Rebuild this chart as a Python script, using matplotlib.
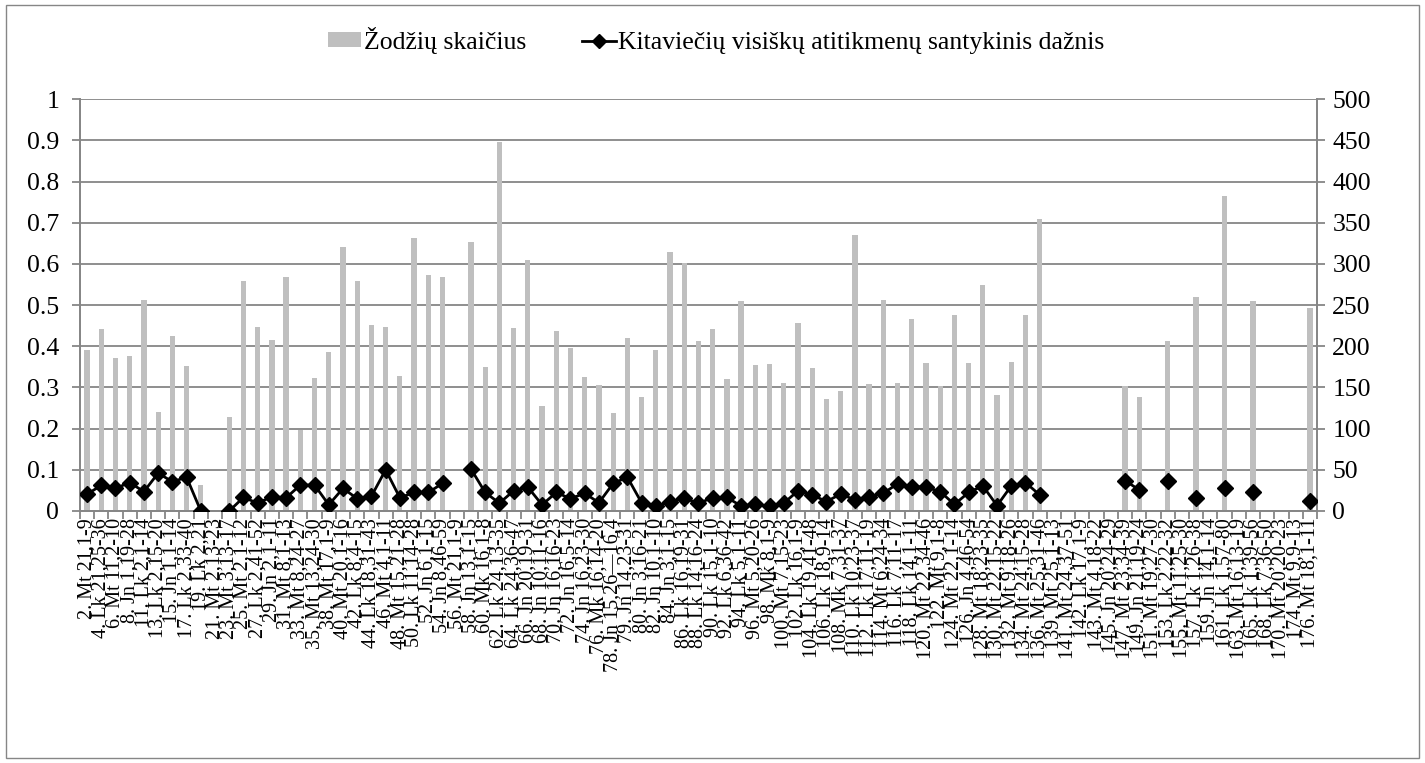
import numpy as np
import matplotlib
matplotlib.use("Agg")
import matplotlib.pyplot as plt
from matplotlib.patches import Patch, Rectangle
from matplotlib.lines import Line2D

plt.rcParams["font.family"] = ["Liberation Serif", "DejaVu Serif"]

# ───────────────────────────────
# Data
# ───────────────────────────────
labels = [
    "2. Mt 21,1-9", "4. Lk 21,25-36", "6. Mt 11,2-10", "8. Jn 1,19-28", "11. Lk 2,1-14",
    "13. Lk 2,15-20", "15. Jn 1,1-14", "17. Lk 2,33-40", "19. Lk 2,21", "21. Mt 2,13-23",
    "23. Mt 3,13-17", "25. Mt 2,1-12", "27. Lk 2,41-52", "29. Jn 2,1-11", "31. Mt 8,1-13",
    "33. Mt 8,24-27", "35. Mt 13,24-30", "38. Mt 17,1-9", "40. Mt 20,1-16", "42. Lk 8,4-15",
    "44. Lk 18,31-43", "46. Mt 4,1-11", "48. Mt 15,21-28", "50. Lk 11,14-28", "52. Jn 6,1-15",
    "54. Jn 8,46-59", "56. Mt 21,1-9", "58. Jn 13,1-15", "60. Mk 16,1-8", "62. Lk 24,13-35",
    "64. Lk 24,36-47", "66. Jn 20,19-31", "68. Jn 10,11-16", "70. Jn 16,16-23", "72. Jn 16,5-14",
    "74. Jn 16,23-30", "76. Mk 16,14-20", "78. Jn 15,26—16,4", "79. Jn 14,23-31", "80. Jn 3,16-21",
    "82. Jn 10,1-10", "84. Jn 3,1-15", "86. Lk 16,19-31", "88. Lk 14,16-24", "90. Lk 15,1-10",
    "92. Lk 6,36-42", "94. Lk 5,1-11", "96. Mt 5,20-26", "98. Mk 8,1-9", "100. Mt 7,15-23",
    "102. Lk 16,1-9", "104. Lk 19,41-48", "106. Lk 18,9-14", "108. Mk 7,31-37", "110. Lk 10,23-37",
    "112. Lk 17,11-19", "114. Mt 6,24-34", "116. Lk 7,11-17", "118. Lk 14,1-11", "120. Mt 22,34-46",
    "122. Mt 9,1-8", "124. Mt 22,1-14", "126. Jn 4,46-54", "128. Mt 18,23-35", "130. Mt 22,15-22",
    "132. Mt 9,18-26", "134. Mt 24,15-28", "136. Mt 25,31-46", "139. Mt 25,1-13", "141. Mt 24,37-51",
    "142. Lk 17,1-9", "143. Mt 4,18-22", "145. Jn 20,24-29", "147. Mt 23,34-39", "149. Jn 21,19-24",
    "151. Mt 19,27-30", "153. Lk 2,22-32", "155. Mt 11,25-30", "157. Lk 1,26-38", "159. Jn 14,1-14",
    "161. Lk 1,57-80", "163. Mt 16,13-19", "165. Lk 1,39-56", "168. Lk 7,36-50", "170. Mt 20,20-23",
    "174. Mt 9,9-13", "176. Mt 18,1-11",
]

# word counts (right axis); nan = no bar
word_counts = [
    195, 221, 186, 188, 256, 120, 213, 176, 31, np.nan,
    114, 279, 223, 208, 284, 98, 162, 193, 321, 279,
    226, 224, 164, 332, 287, 284, np.nan, 327, 175, 448,
    222, 305, 127, 218, 198, 163, 153, 119, 210, 138,
    195, 314, 301, 206, 221, 160, 255, 177, 178, 156,
    228, 174, 136, 146, 335, 154, 256, 155, 233, 180,
    152, 238, 180, 274, 141, 181, 238, 355, np.nan, np.nan,
    np.nan, np.nan, np.nan, 152, 138, np.nan, 206, np.nan, 260, np.nan,
    382, np.nan, 255, np.nan, np.nan, np.nan, 247,
]

# relative frequency of full matches (left axis); nan = gap
rel_freq = [
    0.041, 0.062, 0.055, 0.069, 0.047, 0.092, 0.071, 0.082, 0.0, np.nan,
    0.0, 0.033, 0.019, 0.035, 0.032, 0.063, 0.063, 0.015, 0.055, 0.030,
    0.036, 0.100, 0.032, 0.045, 0.045, 0.067, np.nan, 0.102, 0.045, 0.019,
    0.049, 0.058, 0.015, 0.045, 0.030, 0.043, 0.020, 0.067, 0.082, 0.020,
    0.011, 0.023, 0.031, 0.019, 0.032, 0.033, 0.012, 0.016, 0.011, 0.019,
    0.049, 0.039, 0.023, 0.041, 0.027, 0.035, 0.043, 0.066, 0.059, 0.058,
    0.047, 0.016, 0.045, 0.061, 0.013, 0.061, 0.069, 0.039, np.nan, np.nan,
    np.nan, np.nan, np.nan, 0.074, 0.051, np.nan, 0.074, np.nan, 0.031, np.nan,
    0.055, np.nan, 0.047, np.nan, np.nan, np.nan, 0.025,
]

legend_labels = ["Žodžių skaičius", "Kitaviečių visiškų atitikmenų santykinis dažnis"]

# ───────────────────────────────
# Plot
# ───────────────────────────────
GRID = "#868686"
BAR = "#BFBFBF"
FS_X = 14.5
FS = 18.5

fig = plt.figure(figsize=(14.25, 7.63), dpi=100)
ax = fig.add_axes([0.0561, 0.3303, 0.8681, 0.5396])
ax2 = ax.twinx()

x = np.arange(len(labels))

# bars on secondary axis, drawn behind the line
ax2.bar(x, word_counts, width=0.37, color=BAR, zorder=2)
ax2.set_ylim(0, 500)
ax2.set_yticks(np.arange(0, 501, 50))
ax2.yaxis.grid(True, color=GRID, linewidth=1.3, zorder=0)
ax2.set_axisbelow(True)

ax.plot(x, rel_freq, color="black", linewidth=2, marker="D", markersize=8, zorder=3)
ax.set_ylim(0, 1)
ax.set_yticks(np.arange(0, 1.01, 0.1))
ax.set_yticklabels(["0", "0.1", "0.2", "0.3", "0.4", "0.5", "0.6", "0.7", "0.8", "0.9", "1"])
ax.set_zorder(ax2.get_zorder() + 1)
ax.patch.set_visible(False)

ax.set_xlim(-0.5, len(labels) - 0.5)
ax.set_xticks(x)
ax.set_xticklabels(labels, rotation=90, fontsize=FS_X)
ax.set_xticks(np.arange(-0.5, len(labels), 1), minor=True)
ax.tick_params(axis="x", which="major", length=0, pad=5)
ax.tick_params(axis="x", which="minor", length=6, color=GRID, width=1.3)
ax.tick_params(axis="y", length=6, color=GRID, width=1.3, labelsize=FS, pad=9)
ax2.tick_params(axis="y", length=6, color=GRID, width=1.3, labelsize=FS, pad=5)

for a in (ax, ax2):
    a.spines["top"].set_visible(False)
    for s in ("left", "right", "bottom"):
        a.spines[s].set_color(GRID)
        a.spines[s].set_linewidth(1.3)

handles = [
    Patch(facecolor=BAR, edgecolor="none"),
    Line2D([0], [0], color="black", linewidth=2, marker="D", markersize=7),
]
fig.legend(handles, legend_labels, loc="center", bbox_to_anchor=(0.5025, 0.947), ncol=2,
           frameon=False, fontsize=FS, handlelength=1.3, handleheight=0.5,
           handletextpad=0.1, columnspacing=2.2)

# chart-area border
fig.patches.append(Rectangle((0.004, 0.006), 0.992, 0.988, transform=fig.transFigure,
                             fill=False, edgecolor=GRID, linewidth=1))

fig.savefig("out.png", dpi=100)
